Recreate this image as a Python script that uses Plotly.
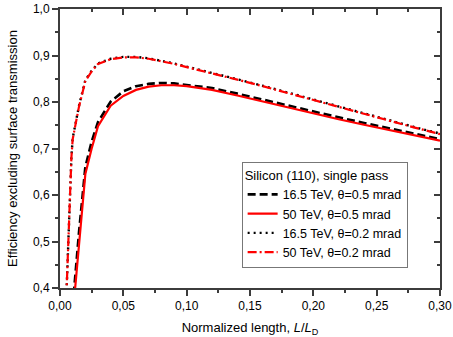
import plotly.graph_objects as go

# normalized length L/L_D and efficiency
x_165_05 = [0.010, 0.015, 0.020, 0.025, 0.030, 0.040, 0.050, 0.060, 0.070, 0.080, 0.090,
            0.100, 0.120, 0.140, 0.160, 0.180, 0.200, 0.220, 0.240, 0.260, 0.280, 0.300]
eff_165_05 = [0.36, 0.52, 0.660, 0.715, 0.757, 0.801, 0.823, 0.834, 0.839, 0.841, 0.840,
              0.837, 0.830, 0.818, 0.805, 0.792, 0.779, 0.767, 0.755, 0.743, 0.731, 0.720]

x_50_05 = [0.010, 0.015, 0.020, 0.025, 0.030, 0.040, 0.050, 0.060, 0.070, 0.080, 0.090,
           0.100, 0.120, 0.140, 0.160, 0.180, 0.200, 0.220, 0.240, 0.260, 0.280, 0.300]
eff_50_05 = [0.34, 0.49, 0.645, 0.700, 0.748, 0.792, 0.813, 0.826, 0.833, 0.836, 0.836,
             0.834, 0.826, 0.814, 0.801, 0.788, 0.775, 0.763, 0.751, 0.740, 0.728, 0.717]

x_165_02 = [0.005, 0.0065, 0.008, 0.009, 0.010, 0.015, 0.020, 0.025, 0.030, 0.040, 0.050,
            0.060, 0.070, 0.080, 0.090, 0.100, 0.120, 0.140, 0.160, 0.180, 0.200, 0.220,
            0.240, 0.260, 0.280, 0.300]
eff_165_02 = [0.38, 0.50, 0.60, 0.68, 0.722, 0.792, 0.847, 0.867, 0.883, 0.893, 0.897,
              0.897, 0.894, 0.889, 0.883, 0.876, 0.863, 0.849, 0.835, 0.820, 0.805, 0.791,
              0.776, 0.761, 0.746, 0.732]

x_50_02 = [0.005, 0.0065, 0.008, 0.009, 0.010, 0.015, 0.020, 0.025, 0.030, 0.040, 0.050,
           0.060, 0.070, 0.080, 0.090, 0.100, 0.120, 0.140, 0.160, 0.180, 0.200, 0.220,
           0.240, 0.260, 0.280, 0.300]
eff_50_02 = [0.38, 0.50, 0.60, 0.68, 0.720, 0.790, 0.845, 0.866, 0.882, 0.892, 0.896,
             0.896, 0.893, 0.888, 0.882, 0.875, 0.862, 0.848, 0.834, 0.819, 0.804, 0.790,
             0.775, 0.760, 0.745, 0.731]

FONT = "Liberation Sans, Arial, sans-serif"
AXIS_COLOR = "#3c3c3c"

fig = go.Figure()

fig.add_trace(go.Scatter(
    x=x_165_05, y=eff_165_05, mode="lines", name="16.5 TeV, θ=0.5 mrad",
    line=dict(color="black", width=2.6, dash="8px,4px"),
))
fig.add_trace(go.Scatter(
    x=x_50_05, y=eff_50_05, mode="lines", name="50 TeV, θ=0.5 mrad",
    line=dict(color="#ff0000", width=2.2),
))
fig.add_trace(go.Scatter(
    x=x_165_02, y=eff_165_02, mode="lines", name="16.5 TeV, θ=0.2 mrad",
    line=dict(color="black", width=2.4, dash="2px,4px"),
))
fig.add_trace(go.Scatter(
    x=x_50_02, y=eff_50_02, mode="lines", name="50 TeV, θ=0.2 mrad",
    line=dict(color="#ff0000", width=2.2, dash="9px,3px,2px,3px"),
))
# empty trace so the mirrored tick axes (top / right) get drawn
fig.add_trace(go.Scatter(x=[], y=[], xaxis="x2", yaxis="y2", showlegend=False,
                         hoverinfo="skip"))

tick_style = dict(tickwidth=1.5, tickcolor=AXIS_COLOR, showgrid=False, zeroline=False)

fig.update_layout(
    width=453,
    height=337,
    paper_bgcolor="white",
    plot_bgcolor="white",
    separators=", ",
    font=dict(family=FONT, size=12, color="black"),
    margin=dict(l=60, r=13, t=9, b=49, autoexpand=False),
    showlegend=True,
    legend=dict(
        title=dict(text="Silicon (110), single pass", font=dict(size=13)),
        font=dict(size=12.5),
        x=0.478,
        y=0.452,
        xanchor="left",
        yanchor="top",
        bgcolor="white",
        bordercolor="#777777",
        borderwidth=1,
        tracegroupgap=0,
        itemwidth=30,
    ),
    xaxis=dict(
        range=[0, 0.30],
        dtick=0.05,
        tickformat=".2f",
        ticks="outside",
        ticklen=6,
        minor=dict(dtick=0.025, ticks="outside", ticklen=3, tickwidth=1.5, tickcolor=AXIS_COLOR),
        showline=True,
        linecolor=AXIS_COLOR,
        linewidth=2,
        mirror=True,
        automargin=False,
        ticklabeloverflow="allow",
        title=dict(text="Normalized length, <i>L</i>/<i>L</i><sub>D</sub>",
                   font=dict(size=13)),
        **tick_style,
    ),
    yaxis=dict(
        range=[0.4, 1.0],
        dtick=0.1,
        tickformat=".1f",
        ticks="outside",
        ticklen=6,
        minor=dict(dtick=0.05, ticks="outside", ticklen=3, tickwidth=1.5, tickcolor=AXIS_COLOR),
        showline=True,
        linecolor=AXIS_COLOR,
        linewidth=2,
        mirror=True,
        automargin=True,
        ticklabeloverflow="allow",
        title=dict(text="Efficiency excluding surface transmission",
                   font=dict(size=13), standoff=12),
        **tick_style,
    ),
    xaxis2=dict(
        overlaying="x",
        side="top",
        range=[0, 0.30],
        dtick=0.05,
        ticks="inside",
        ticklen=6,
        minor=dict(dtick=0.025, ticks="inside", ticklen=3, tickwidth=1.5, tickcolor=AXIS_COLOR),
        showticklabels=False,
        automargin=False,
        **tick_style,
    ),
    yaxis2=dict(
        overlaying="y",
        side="right",
        range=[0.4, 1.0],
        dtick=0.1,
        ticks="inside",
        ticklen=6,
        minor=dict(dtick=0.05, ticks="inside", ticklen=3, tickwidth=1.5, tickcolor=AXIS_COLOR),
        showticklabels=False,
        automargin=False,
        **tick_style,
    ),
)

# the page's default 8px body margin would push the figure out of the window
fig.write_html("out.html", config={"displayModeBar": False},
               post_script="document.body.style.margin = '0';")
